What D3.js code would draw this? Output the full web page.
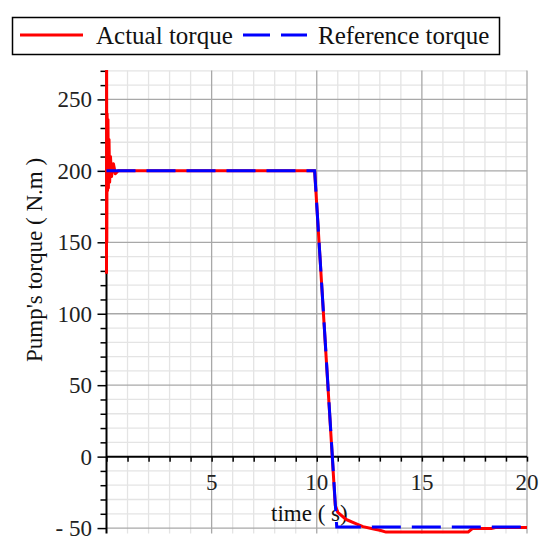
<!DOCTYPE html>
<html><head><meta charset="utf-8">
<script src="https://cdn.jsdelivr.net/npm/d3@7"></script>
<style>body{margin:0;background:#fff}svg{display:block}text{font-family:"Liberation Serif","Times New Roman",serif}</style>
</head><body>
<svg id="c" width="547" height="551"></svg>
<script>
// ---- data ----
const seriesNames = ["Actual torque", "Reference torque"];
const timeActual   = [0, 0.005, 0.015, 0.03, 0.05, 0.07, 0.09, 0.12, 0.15, 0.19, 0.24, 0.33, 0.42, 0.55, 9.9, 10.88, 11.0, 11.4, 11.8, 12.2, 12.6, 13.0, 13.3, 17.2, 17.4, 18.3, 18.5, 20];
const torqueActual = [128, 285, 150, 240, 186, 236, 188, 222, 192, 210, 196, 205, 198, 200, 200, -34, -39, -44, -46.5, -49, -50.3, -51.5, -52.8, -52.8, -50.3, -50.3, -49.6, -49.6];
const timeRef   = [0, 9.9, 10.95, 20];
const torqueRef = [200, 200, -49.2, -49.2];
const xTicks = [5, 10, 15, 20];
const yTicks = [-50, 0, 50, 100, 150, 200, 250];

const svg = d3.select("#c");
const x = d3.scaleLinear().domain([0, 20]).range([106.5, 527]);
const y = d3.scaleLinear().domain([-53.8, 270.3]).range([533.5, 70.4]);

// grid
const g = svg.append("g");
const minorX = d3.range(1, 21).filter(v => v % 5 !== 0);
const minorY = d3.range(-50, 271, 10).filter(v => v % 50 !== 0);
g.selectAll(".mx").data(minorX).join("line")
  .attr("x1", d => x(d)).attr("x2", d => x(d)).attr("y1", y.range()[1]).attr("y2", y.range()[0])
  .attr("stroke", "#e4e4e4").attr("stroke-width", 1.3);
g.selectAll(".my").data(minorY).join("line")
  .attr("y1", d => y(d)).attr("y2", d => y(d)).attr("x1", x(0)).attr("x2", x(20))
  .attr("stroke", "#e4e4e4").attr("stroke-width", 1.3);
g.selectAll(".Mx").data(xTicks).join("line")
  .attr("x1", d => x(d)).attr("x2", d => x(d)).attr("y1", y.range()[1]).attr("y2", y.range()[0])
  .attr("stroke", "#a8a8a8").attr("stroke-width", 1.3);
g.selectAll(".My").data(yTicks.filter(v => v !== 0)).join("line")
  .attr("y1", d => y(d)).attr("y2", d => y(d)).attr("x1", x(0)).attr("x2", x(20))
  .attr("stroke", "#a8a8a8").attr("stroke-width", 1.3);

// axes
const xAxis = d3.axisBottom(x).tickValues(d3.range(0, 21, 1)).tickSize(5).tickFormat("");
const yAxis = d3.axisLeft(y).tickValues(d3.range(-50, 271, 10)).tickSize(6).tickFormat("");
const xa = svg.append("g").attr("transform", `translate(0,${y(0)})`).call(xAxis);
const ya = svg.append("g").attr("transform", `translate(${x(0)},0)`).call(yAxis);
[xa, ya].forEach(a => { a.select(".domain").remove(); a.selectAll("line").attr("stroke", "#000").attr("stroke-width", 1.5); });
ya.selectAll(".tick line").filter(d => d % 50 === 0).attr("x2", -9);
svg.append("line").attr("x1", x(0)).attr("x2", x(20)).attr("y1", y(0)).attr("y2", y(0)).attr("stroke", "#000").attr("stroke-width", 2);
svg.append("line").attr("x1", x(0)).attr("x2", x(0)).attr("y1", y.range()[1]).attr("y2", y.range()[0]).attr("stroke", "#000").attr("stroke-width", 2);

// tick labels
svg.selectAll(".xl").data(xTicks).join("text")
  .attr("x", d => x(d)).attr("y", 490).attr("text-anchor", "middle")
  .attr("font-size", 23).attr("fill", "#222").text(d => d);
svg.selectAll(".yl").data(yTicks).join("text")
  .attr("x", 92).attr("y", d => y(d) + 8).attr("text-anchor", "end")
  .attr("font-size", 23).attr("fill", "#222").text(d => d < 0 ? "- " + Math.abs(d) : d);

// axis titles
svg.append("text").attr("x", 271).attr("y", 521).attr("font-size", 23).attr("fill", "#111").text("time ( s)");
svg.append("text").attr("transform", "translate(42,260) rotate(-90)").attr("text-anchor", "middle")
  .attr("font-size", 23).attr("fill", "#111").text("Pump's torque ( N.m )");

// lines
svg.append("clipPath").attr("id", "clip").append("rect").attr("x", 95).attr("y", 70).attr("width", 440).attr("height", 470);
const line = d3.line().x(d => x(d[0])).y(d => y(d[1]));
const plot = svg.append("g").attr("clip-path", "url(#clip)");
plot.append("path").datum(timeActual.map((t, i) => [t, torqueActual[i]]))
  .attr("d", line).attr("fill", "none").attr("stroke", "#ff0000").attr("stroke-width", 3).attr("stroke-linejoin", "round");
plot.append("path").datum(timeRef.map((t, i) => [t, torqueRef[i]]))
  .attr("d", line).attr("fill", "none").attr("stroke", "#0000ff").attr("stroke-width", 3).attr("stroke-dasharray", "29,11");

// legend
svg.append("rect").attr("x", 12.5).attr("y", 17.5).attr("width", 487).attr("height", 37)
  .attr("fill", "#fff").attr("stroke", "#000").attr("stroke-width", 1.5);
svg.append("line").attr("x1", 20).attr("x2", 83).attr("y1", 35).attr("y2", 35).attr("stroke", "#ff0000").attr("stroke-width", 3);
svg.append("text").attr("x", 96).attr("y", 44).attr("font-size", 25).attr("fill", "#111").text(seriesNames[0]);
svg.append("line").attr("x1", 243).attr("x2", 307).attr("y1", 35).attr("y2", 35).attr("stroke", "#0000ff").attr("stroke-width", 3).attr("stroke-dasharray", "27,11");
svg.append("text").attr("x", 318).attr("y", 44).attr("font-size", 25).attr("fill", "#111").text(seriesNames[1]);
</script>
</body></html>
